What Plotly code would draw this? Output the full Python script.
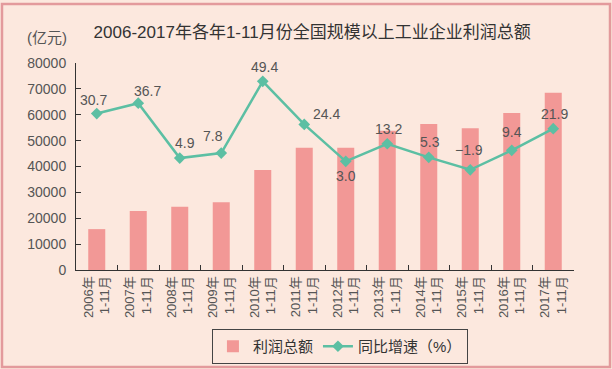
import plotly.graph_objects as go

years = ["2006年", "2007年", "2008年", "2009年", "2010年", "2011年",
         "2012年", "2013年", "2014年", "2015年", "2016年", "2017年"]
period = "1-11月"
categories = [f"{y}<br>{period}" for y in years]

profit = [15800, 22800, 24400, 26200, 38600, 47200,
          47200, 53800, 56400, 54800, 60700, 68500]
growth = [30.7, 36.7, 4.9, 7.8, 49.4, 24.4, 3.0, 13.2, 5.3, -1.9, 9.4, 21.9]
growth_text = ["30.7", "36.7", "4.9", "7.8", "49.4", "24.4",
               "3.0", "13.2", "5.3", "−1.9", "9.4", "21.9"]

# label offsets (pixels) for the growth labels
label_dx = [-3, 9, 5, -8, 2, 22, 0, 1, 1, -1, 0, 1]
label_dy = [14, 12, 15, 17, 14, 10, -15, 15, 15, 20, 18, 15]

BG = "#FCE8DE"
BAR = "#F29896"
LINE = "#5CBFA3"
TXT = "#555555"
FONT = "Liberation Sans, Arial, Noto Sans CJK SC"

fig = go.Figure()
fig.add_trace(go.Bar(
    x=categories, y=profit, name="利润总额",
    marker=dict(color=BAR, line=dict(width=0)), width=0.41,
    yaxis="y",
))
fig.add_trace(go.Scatter(
    x=categories, y=growth, name="同比增速（%）",
    mode="lines+markers",
    line=dict(color=LINE, width=2.5),
    marker=dict(symbol="diamond", size=9, color=LINE),
    yaxis="y2",
))

annotations = []
for c, v, t, dx, dy in zip(categories, growth, growth_text, label_dx, label_dy):
    annotations.append(dict(
        x=c, y=v, xref="x", yref="y2", text=t, showarrow=False,
        xshift=dx, yshift=dy, font=dict(size=14, color=TXT, family=FONT),
    ))
annotations.append(dict(
    x=(47 - 76) / 498, y=(270 - 38) / 207, xref="paper", yref="paper",
    text="(亿元)", showarrow=False, xanchor="center", yanchor="middle",
    font=dict(size=15, color=TXT, family=FONT),
))

fig.update_layout(
    width=612, height=369,
    margin=dict(l=76, r=38, t=63, b=99, autoexpand=False),
    paper_bgcolor=BG, plot_bgcolor=BG,
    font=dict(family=FONT, color=TXT),
    title=dict(
        text="2006-2017年各年1-11月份全国规模以上工业企业利润总额",
        x=0.51, xanchor="center", xref="container",
        y=1 - 32 / 369, yanchor="middle", yref="container",
        font=dict(size=17, color="#333333", family=FONT),
    ),
    xaxis=dict(
        range=[-0.5, len(categories) - 0.5],
        showline=True, linecolor="#333333", linewidth=1,
        ticks="inside", ticklen=5, tickcolor="#333333",
        tickson="boundaries", tickangle=-90,
        tickfont=dict(size=13, color=TXT, family=FONT),
        showgrid=False, zeroline=False, automargin=False,
    ),
    yaxis=dict(
        range=[0, 80000], dtick=10000, tickformat="d",
        showline=True, linecolor="#333333", linewidth=1,
        ticks="inside", ticklen=5, tickcolor="#333333",
        tickfont=dict(size=14, color=TXT, family=FONT),
        showgrid=False, zeroline=False, ticklabelstandoff=6,
        automargin=False,
    ),
    yaxis2=dict(
        range=[-60, 60], overlaying="y", side="right",
        visible=False, showgrid=False, zeroline=False,
    ),
    bargap=0.59,
    legend=dict(
        orientation="h", x=0.53, xanchor="center",
        y=-0.285, yanchor="top",
        bordercolor="#444444", borderwidth=1, bgcolor=BG,
        font=dict(size=15, color="#333333", family=FONT),
        itemwidth=30,
    ),
    annotations=annotations,
    shapes=[dict(
        type="rect", xref="paper", yref="paper",
        x0=(2 - 76) / 498, x1=(610 - 76) / 498,
        y0=(270 - 367) / 207, y1=(270 - 4) / 207,
        line=dict(color="#E39A9C", width=2.5), fillcolor="rgba(0,0,0,0)",
        layer="below",
    )],
    showlegend=True,
)

fig.write_html(
    "out.html",
    config={"displayModeBar": False},
    post_script="document.body.style.margin='0px';document.body.style.overflow='hidden';",
)
